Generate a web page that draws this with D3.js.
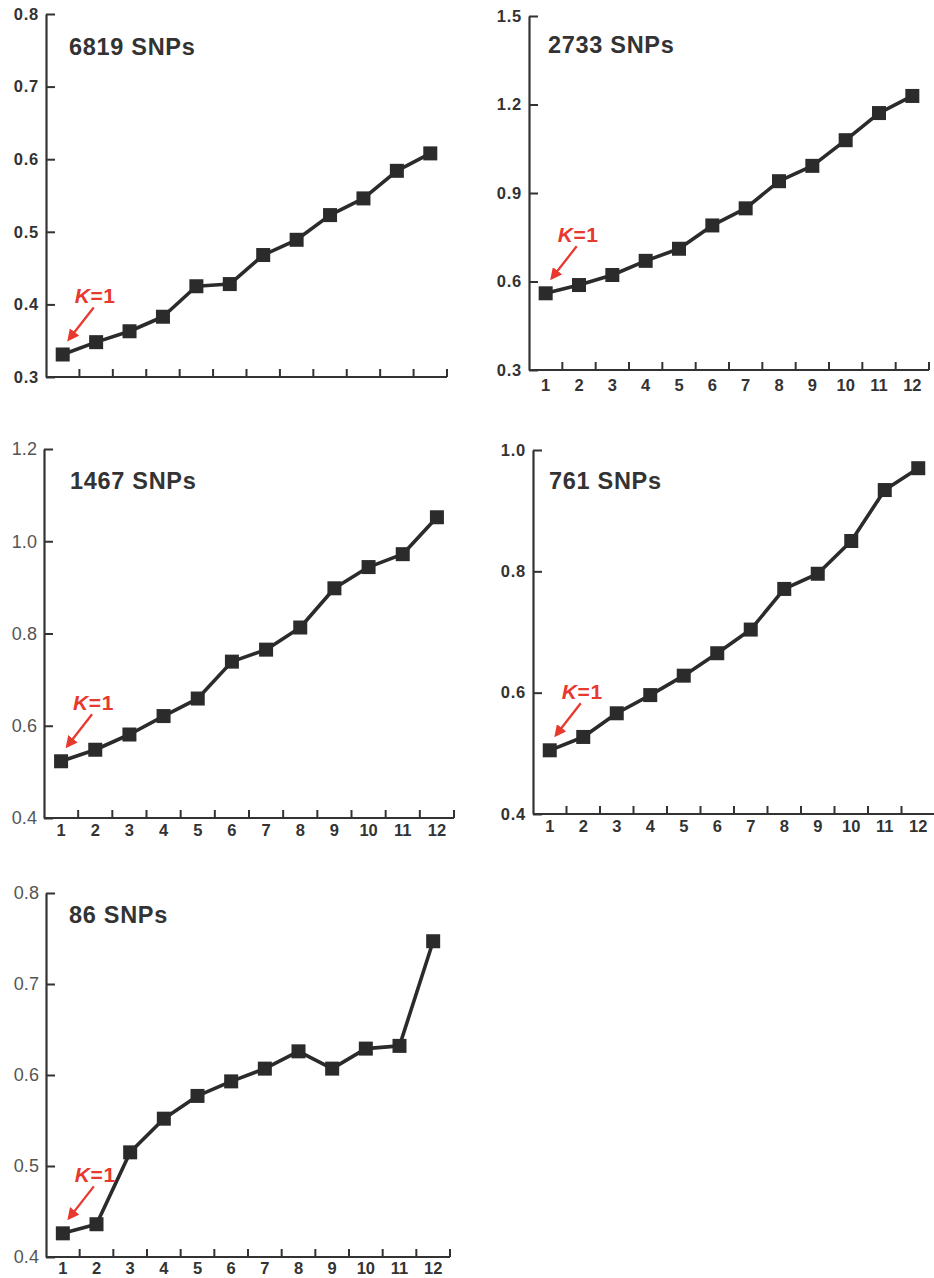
<!DOCTYPE html>
<html><head><meta charset="utf-8">
<script src="https://cdn.jsdelivr.net/npm/d3@7/dist/d3.min.js"></script>
<style>
html,body{margin:0;padding:0;background:#fff;}
svg{display:block;font-family:"Liberation Sans",Arial,sans-serif;}
</style></head>
<body><svg id="chart" width="934" height="1278"></svg>
<script>
// ---- data ----
const kLabels = ["1","2","3","4","5","6","7","8","9","10","11","12"];
const panelTitles = ["6819 SNPs","2733 SNPs","1467 SNPs","761 SNPs","86 SNPs"];
const snps6819 = [0.331,0.348,0.363,0.383,0.425,0.428,0.468,0.489,0.523,0.546,0.584,0.608];
const snps2733 = [0.560,0.588,0.622,0.670,0.711,0.790,0.848,0.940,0.992,1.079,1.171,1.229];
const snps1467 = [0.523,0.548,0.581,0.621,0.659,0.739,0.765,0.813,0.898,0.944,0.972,1.052];
const snps761  = [0.505,0.527,0.566,0.596,0.628,0.665,0.704,0.771,0.796,0.850,0.934,0.970];
const snps86   = [0.426,0.436,0.515,0.552,0.577,0.593,0.607,0.626,0.607,0.629,0.632,0.747];
const yTicks6819 = [0.3,0.4,0.5,0.6,0.7,0.8];
const yTicks2733 = [0.3,0.6,0.9,1.2,1.5];
const yTicks1467 = [0.4,0.6,0.8,1.0,1.2];
const yTicks761  = [0.4,0.6,0.8,1.0];
const yTicks86   = [0.4,0.5,0.6,0.7,0.8];
const annotation = "=1";

// ---- layout ----
const panels = [
  {values:snps6819, ticks:yTicks6819, title:panelTitles[0], left:46, top:14, bottom:377, right:447, xLabels:false, boldY:true, tdx:23, tdy:41, xpad:8},
  {values:snps2733, ticks:yTicks2733, title:panelTitles[1], left:529, top:16, bottom:370, right:929, xLabels:true, boldY:true, tdx:19, tdy:37, xpad:9},
  {values:snps1467, ticks:yTicks1467, title:panelTitles[2], left:44, top:449, bottom:818, right:454, xLabels:true, boldY:false, tdx:26, tdy:40, xpad:6},
  {values:snps761,  ticks:yTicks761,  title:panelTitles[3], left:533, top:450, bottom:814, right:935, xLabels:true, boldY:true, tdx:16, tdy:39, xpad:6},
  {values:snps86,   ticks:yTicks86,   title:panelTitles[4], left:46, top:893, bottom:1257, right:450, xLabels:true, boldY:false, tdx:23, tdy:30, xpad:5}
];

const FONT = "'Liberation Sans', Arial, sans-serif";
const svg = d3.select("#chart");
const ink = "#2b2b2b", axisCol = "#333", red = "#e8392f";

svg.append("defs").append("marker")
  .attr("id","arrow").attr("viewBox","0 0 10 10").attr("refX",8).attr("refY",5)
  .attr("markerWidth",5.2).attr("markerHeight",5.2).attr("orient","auto-start-reverse")
  .append("path").attr("d","M0,0 L10,5 L0,10 z").attr("fill",red);

panels.forEach(p => {
  const g = svg.append("g");
  const x = d3.scaleBand().domain(kLabels).range([p.left, p.right]).paddingInner(0).paddingOuter(0);
  const y = d3.scaleLinear().domain(d3.extent(p.ticks)).range([p.bottom, p.top]);
  const bw = x.bandwidth();

  // y axis
  const ya = g.append("g").attr("transform",`translate(${p.left},0)`)
    .call(d3.axisLeft(y).tickValues(p.ticks).tickSizeInner(-9).tickSizeOuter(0).tickPadding(7).tickFormat(d3.format(".1f")));
  ya.attr("font-family",FONT);
  ya.select(".domain").attr("stroke",axisCol).attr("stroke-width",2.2);
  ya.selectAll(".tick line").attr("stroke",axisCol).attr("stroke-width",2);
  ya.selectAll(".tick text")
    .attr("font-family",FONT)
    .attr("font-size", p.boldY ? 16.5 : 18)
    .attr("font-weight", p.boldY ? "bold" : "normal")
    .attr("letter-spacing", p.boldY ? 0.8 : 0.1)
    .attr("fill", p.boldY ? "#333" : "#555");

  // x axis baseline + ticks at band edges
  g.append("line").attr("x1",p.left).attr("x2",p.right).attr("y1",p.bottom).attr("y2",p.bottom)
    .attr("stroke",axisCol).attr("stroke-width",2.2);
  g.selectAll(".xt").data(kLabels).join("line")
    .attr("x1",d=>x(d)+bw).attr("x2",d=>x(d)+bw)
    .attr("y1",p.bottom).attr("y2",p.bottom-8)
    .attr("stroke",axisCol).attr("stroke-width",2);
  if (p.xLabels) {
    const xa = g.append("g").attr("transform",`translate(0,${p.bottom})`)
      .call(d3.axisBottom(x).tickSize(0).tickPadding(p.xpad));
    xa.attr("font-family",FONT);
    xa.select(".domain").remove();
    xa.selectAll(".tick text").attr("font-family",FONT).attr("font-size",16.5).attr("font-weight","bold").attr("fill","#333");
  }

  // title
  g.append("text").attr("x",p.left+p.tdx).attr("y",p.top+p.tdy)
    .attr("font-family",FONT)
    .attr("font-size",23.5).attr("font-weight","bold").attr("fill","#333")
    .attr("letter-spacing",0.7).text(p.title);

  // line + markers
  const pts = p.values.map((v,i)=>({k:kLabels[i], v}));
  const cx = d => x(d.k)+bw/2;
  g.append("path").datum(pts)
    .attr("d", d3.line().x(cx).y(d=>y(d.v)))
    .attr("fill","none").attr("stroke",ink).attr("stroke-width",3.6).attr("stroke-linejoin","round");
  g.selectAll(".pt").data(pts).join("rect")
    .attr("x",d=>cx(d)-7).attr("y",d=>y(d.v)-7).attr("width",14).attr("height",14)
    .attr("fill",ink);

  // K=1 annotation
  const p0 = pts[0], px = cx(p0), py = y(p0.v);
  const t = g.append("text").attr("x",px+12).attr("y",py-51)
    .attr("font-family",FONT)
    .attr("font-size",21).attr("font-weight","bold").attr("fill",red).attr("letter-spacing",0.6);
  t.append("tspan").attr("font-style","italic").text("K");
  t.append("tspan").text(annotation);
  g.append("line").attr("x1",px+31).attr("y1",py-47).attr("x2",px+6).attr("y2",py-15)
    .attr("stroke",red).attr("stroke-width",2.3).attr("marker-end","url(#arrow)");
});
</script></body></html>
